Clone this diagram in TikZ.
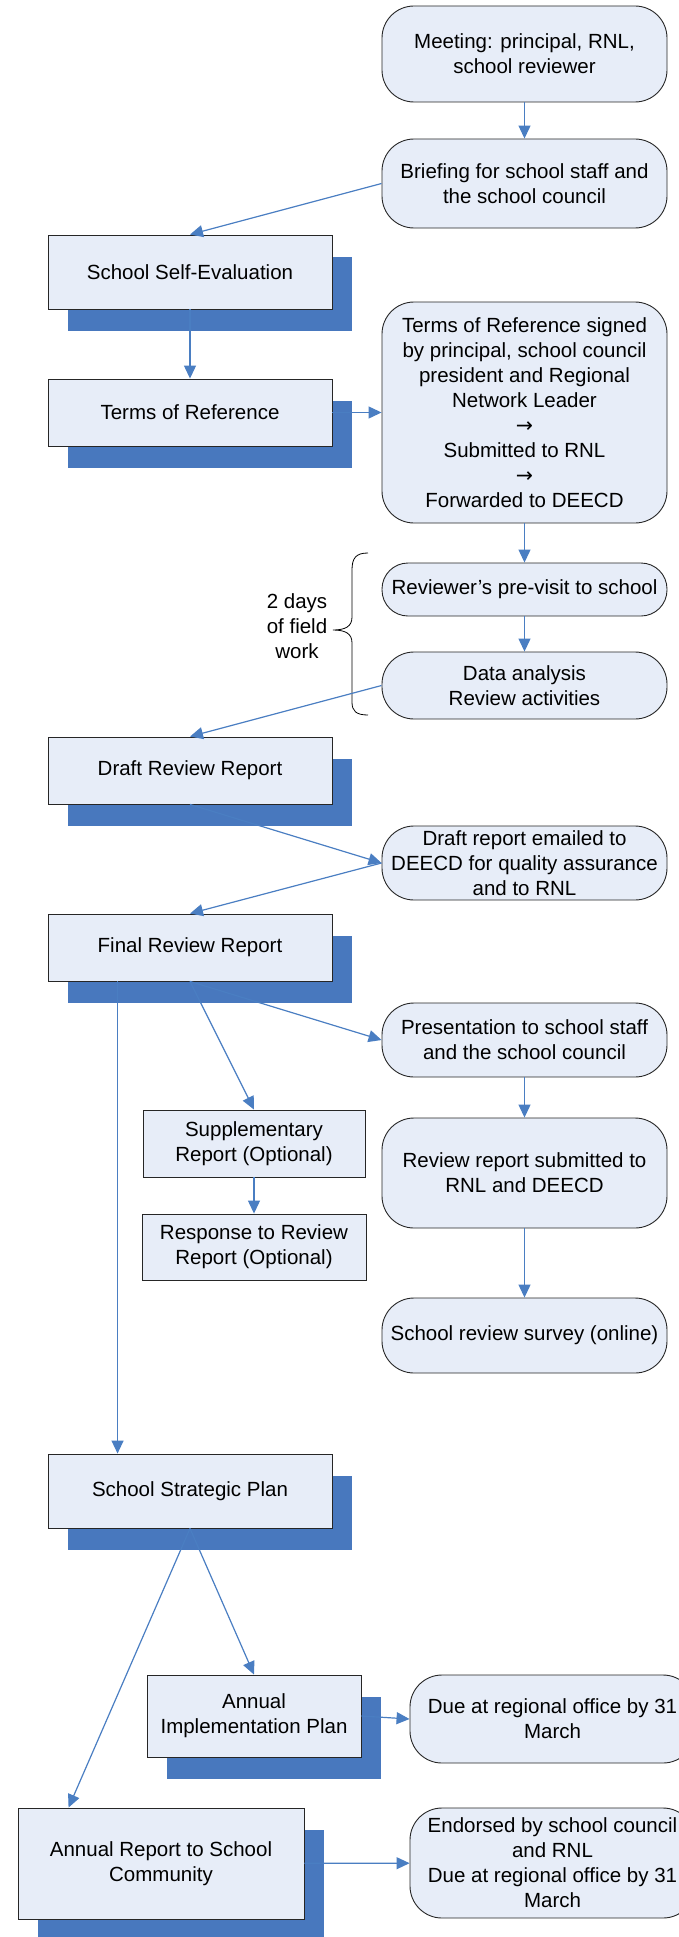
\documentclass[tikz,border=0pt]{standalone}
\usepackage{fontspec}
\setmainfont{Liberation Sans}
\newfontfamily\arrowfont{DejaVu Sans}
\usetikzlibrary{arrows.meta,shadows}
\definecolor{boxfill}{RGB}{231,237,248}
\definecolor{shadowblue}{RGB}{72,120,190}
\definecolor{arrowblue}{RGB}{74,126,194}
\begin{document}
\begin{tikzpicture}[x=1pt, y=-1pt,
	every node/.style={font=\fontsize{20.5pt}{25pt}\selectfont, align=center, inner sep=0pt},
	rbox/.style={draw=black!85, line width=0.9pt, fill=boxfill, rounded corners=32pt, minimum width=285pt},
	pbox/.style={draw=black!85, line width=0.9pt, fill=boxfill},
	sbox/.style={pbox, drop shadow={shadow xshift=20pt, shadow yshift=-22pt, fill=shadowblue, opacity=1}},
	link/.style={-{Triangle[length=13pt,width=12pt]}, arrowblue, line width=1.2pt}]
	\useasboundingbox (0,0) rectangle (679,1937);
	\clip (0,0) rectangle (679,1937);
	
	\node [rbox, minimum height=96pt] (meeting) at (524.5,54) {Meeting: principal, RNL,\\school reviewer};
	\node [rbox, minimum height=89pt] (briefing) at (524.5,183.5) {Briefing for school staff and\\the school council};
	\node [rbox, minimum height=221pt] (signed) at (524.5,412.5) {Terms of Reference signed\\by principal, school council\\president and Regional\\Network Leader\\{\arrowfont →}\\Submitted to RNL\\{\arrowfont →}\\Forwarded to DEECD};
	\node [rbox, minimum height=53pt, rounded corners=26pt] (reviewer) at (524.5,589.5) {Reviewer’s pre-visit to school};
	\node [rbox, minimum height=67pt] (data) at (524.5,685.5) {Data analysis\\Review activities};
	\node [rbox, minimum height=74pt] (emailed) at (524.5,863) {Draft report emailed to\\DEECD for quality assurance\\and to RNL};
	\node [rbox, minimum height=74pt] (present) at (524.5,1040) {Presentation to school staff\\and the school council};
	\node [rbox, minimum height=110pt] (submitted) at (524.5,1173) {Review report submitted to\\RNL and DEECD};
	\node [rbox, minimum height=75pt] (survey) at (524.5,1335.5) {School review survey (online)};
	\node [rbox, minimum height=88pt] (due) at (552.5,1719) {Due at regional office by 31\\March};
	\node [rbox, minimum height=110pt] (endorsed) at (552.5,1863) {Endorsed by school council\\and RNL\\Due at regional office by 31\\March};
	
	\node [sbox, minimum width=284pt, minimum height=74pt] (selfeval) at (190,272) {School Self-Evaluation};
	\node [sbox, minimum width=284pt, minimum height=67pt] (tor) at (190,412.5) {Terms of Reference};
	\node [sbox, minimum width=284pt, minimum height=67pt] (draft) at (190,770.5) {Draft Review Report};
	\node [sbox, minimum width=284pt, minimum height=67pt] (final) at (190,947.5) {Final Review Report};
	\node [pbox, minimum width=222pt, minimum height=67pt] (supp) at (254,1143.5) {Supplementary\\Report (Optional)};
	\node [pbox, minimum width=224pt, minimum height=66pt] (response) at (254,1247) {Response to Review\\Report (Optional)};
	\node [sbox, minimum width=284pt, minimum height=74pt] (ssp) at (190,1491) {School Strategic Plan};
	\node [sbox, minimum width=214pt, minimum height=82pt] (aip) at (254,1716) {Annual\\Implementation Plan};
	\node [sbox, minimum width=286pt, minimum height=111pt] (ar) at (161,1863.5) {Annual Report to School\\Community};
	
	\draw [black, line width=0.8pt] (368,553) .. controls (356,553) and (352,558) .. (352,570) -- (352,617) .. controls (352,626) and (346,630) .. (333,630) .. controls (346,630) and (352,634) .. (352,643) -- (352,702) .. controls (352,711) and (356,715) .. (368,715);
	\node (fieldwork) at (297,626) {2 days\\of field\\work};
	
	\draw [link] (meeting) -- (briefing);
	\draw [link] (briefing.west) -- (selfeval.north);
	\draw [link] (selfeval) -- (tor);
	\draw [link] (tor) -- (signed);
	\draw [link] (signed) -- (reviewer);
	\draw [link] (reviewer) -- (data);
	\draw [link] (data.west) -- (draft.north);
	\draw [link] (draft.south) -- (emailed.west);
	\draw [link] (emailed.west) -- (final.north);
	\draw [link] (final.south) -- (present.west);
	\draw [link] (final.south) -- (supp.north);
	\draw [link] (supp) -- (response);
	\draw [link] (present) -- (submitted);
	\draw [link] (submitted) -- (survey);
	\draw [link] ([xshift=70pt]final.south west) -- ([xshift=70pt]ssp.north west);
	\draw [link] (ssp.south) -- (aip.north);
	\draw [link] (ssp.south) -- ([xshift=51pt]ar.north west);
	\draw [link] (aip.east) -- (due.west);
	\draw [link] (ar) -- (endorsed);
\end{tikzpicture}
\end{document}
